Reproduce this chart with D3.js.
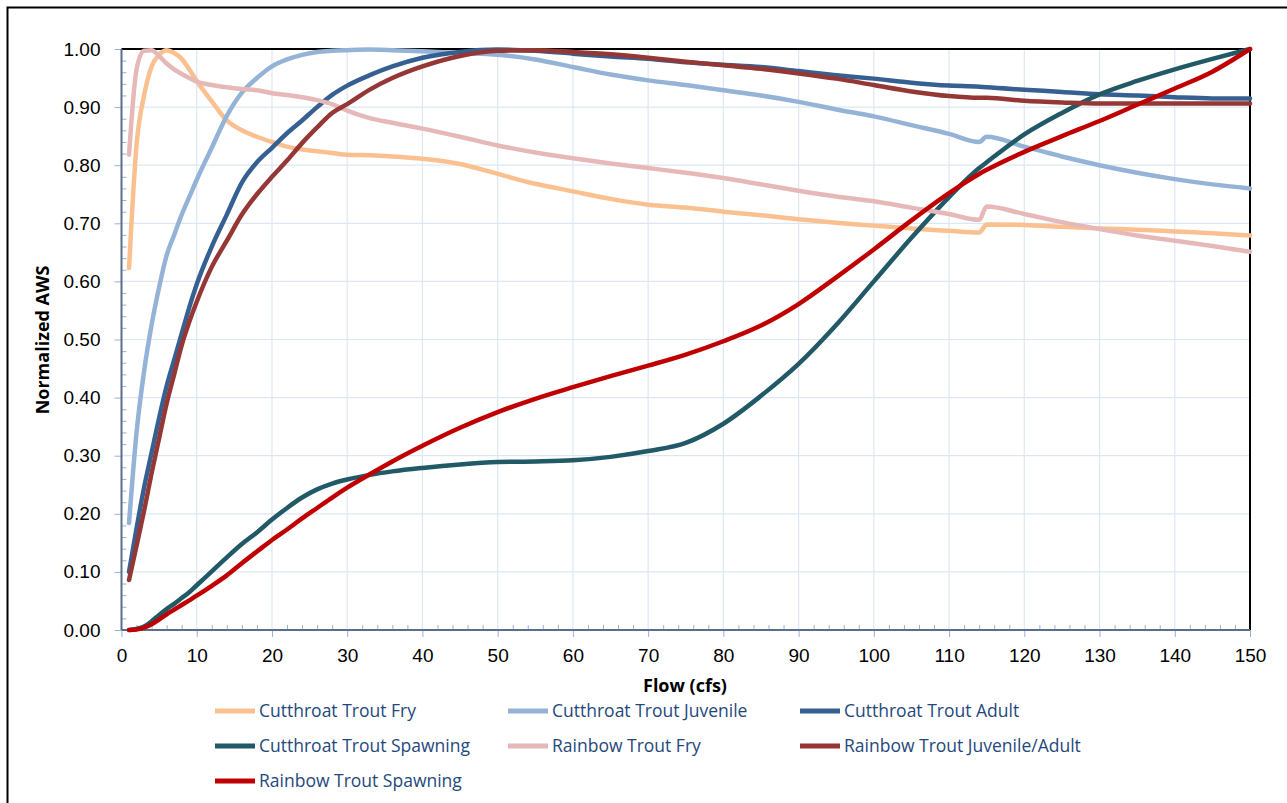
<!DOCTYPE html>
<html>
<head>
<meta charset="utf-8">
<script src="https://cdn.jsdelivr.net/npm/d3@7"></script>
<style>
  body { margin: 0; background: #fff; }
  svg { display: block; font-family: "Open Sans", "Noto Sans", sans-serif; }
</style>
</head>
<body>
<script>
// flow values (cfs) shared by every series
var flows = [1,2,3,4,5,6,7,8,9,10,12,14,16,18,20,22,24,26,28,30,33,36,40,45,50,55,60,65,70,75,80,85,90,95,100,105,110,114,115,120,125,130,135,140,145,150];

var ctFry = [0.623,0.835,0.92,0.97,0.99,0.998,0.993,0.983,0.965,0.945,0.91,0.877,0.86,0.849,0.84,0.832,0.827,0.824,0.821,0.818,0.817,0.815,0.811,0.802,0.785,0.768,0.755,0.742,0.732,0.727,0.72,0.714,0.707,0.701,0.696,0.691,0.687,0.684,0.698,0.697,0.694,0.691,0.689,0.686,0.683,0.679];
var ctJuv = [0.184,0.34,0.445,0.525,0.59,0.645,0.68,0.715,0.745,0.775,0.83,0.885,0.925,0.95,0.97,0.982,0.99,0.995,0.997,0.998,0.999,0.998,0.996,0.993,0.99,0.982,0.969,0.956,0.946,0.938,0.929,0.92,0.909,0.896,0.884,0.869,0.854,0.84,0.849,0.832,0.815,0.8,0.787,0.776,0.767,0.76];
var ctAdult = [0.1,0.175,0.245,0.305,0.365,0.42,0.465,0.51,0.555,0.595,0.66,0.715,0.77,0.805,0.83,0.855,0.877,0.9,0.921,0.937,0.955,0.97,0.985,0.995,0.999,0.997,0.992,0.987,0.983,0.977,0.973,0.969,0.962,0.955,0.949,0.942,0.937,0.935,0.934,0.93,0.926,0.922,0.92,0.917,0.915,0.915];
var ctSpawn = [0,0.002,0.006,0.015,0.026,0.036,0.045,0.055,0.065,0.077,0.101,0.125,0.148,0.168,0.19,0.21,0.228,0.242,0.252,0.259,0.267,0.273,0.279,0.285,0.289,0.29,0.292,0.298,0.308,0.322,0.355,0.403,0.458,0.525,0.6,0.675,0.745,0.795,0.805,0.853,0.89,0.922,0.945,0.965,0.983,1.0];
var rtFry = [0.818,0.965,0.997,0.998,0.988,0.975,0.965,0.957,0.95,0.944,0.938,0.934,0.931,0.929,0.924,0.921,0.917,0.912,0.905,0.894,0.881,0.873,0.863,0.849,0.834,0.822,0.812,0.803,0.795,0.787,0.778,0.767,0.756,0.746,0.738,0.727,0.716,0.706,0.729,0.716,0.702,0.69,0.679,0.67,0.661,0.651];
var rtJuv = [0.086,0.145,0.205,0.27,0.33,0.39,0.44,0.49,0.53,0.565,0.625,0.67,0.715,0.75,0.78,0.808,0.838,0.865,0.89,0.905,0.93,0.95,0.97,0.988,0.997,0.998,0.995,0.991,0.985,0.978,0.972,0.966,0.958,0.949,0.938,0.927,0.919,0.916,0.916,0.911,0.908,0.906,0.906,0.906,0.906,0.906];
var rtSpawn = [0,0.001,0.004,0.01,0.018,0.027,0.035,0.043,0.051,0.059,0.076,0.094,0.115,0.135,0.155,0.173,0.192,0.21,0.228,0.245,0.268,0.29,0.317,0.348,0.375,0.398,0.418,0.437,0.455,0.474,0.497,0.524,0.561,0.607,0.655,0.705,0.752,0.785,0.792,0.823,0.85,0.876,0.904,0.932,0.961,1.0];

var seriesNames = ["Cutthroat Trout Fry","Cutthroat Trout Juvenile","Cutthroat Trout Adult","Cutthroat Trout Spawning","Rainbow Trout Fry","Rainbow Trout Juvenile/Adult","Rainbow Trout Spawning"];
var seriesValues = [ctFry, ctJuv, ctAdult, ctSpawn, rtFry, rtJuv, rtSpawn];
var seriesColors = ["#FAC090","#95B3D7","#376092","#215967","#E6B9B8","#953735","#C00000"];

var xTicks = d3.range(0, 151, 10);
var yTicks = d3.range(0, 1.001, 0.1);

var W = 1287, H = 803;
var svg = d3.select("body").append("svg").attr("width", W).attr("height", H);

// outer chart frame
svg.append("rect").attr("x", 7.5).attr("y", 7.5).attr("width", 1300).attr("height", 820)
  .attr("fill", "none").attr("stroke", "#000").attr("stroke-width", 2);

var x = d3.scaleLinear().domain([0, 150]).range([121.5, 1250]);
var y = d3.scaleLinear().domain([0, 1]).range([630, 49]);

// gridlines
svg.append("g").selectAll("line").data(xTicks.slice(1)).enter().append("line")
  .attr("x1", d => x(d)).attr("x2", d => x(d)).attr("y1", y(0)).attr("y2", y(1))
  .attr("stroke", "#DDE7F3").attr("stroke-width", 1.2);
svg.append("g").selectAll("line").data(yTicks.slice(1)).enter().append("line")
  .attr("x1", x(0)).attr("x2", x(150)).attr("y1", d => y(d)).attr("y2", d => y(d))
  .attr("stroke", "#DDE7F3").attr("stroke-width", 1.2);

// y axis
var yAxis = svg.append("g").attr("transform", "translate(" + x(0) + ",0)")
  .call(d3.axisLeft(y).tickValues(yTicks).tickFormat(d3.format(".2f")).tickSize(7).tickPadding(14));
yAxis.select(".domain").remove();
yAxis.selectAll(".tick line").attr("stroke", "#95B3D7");
yAxis.selectAll("text").attr("font-size", 19).attr("fill", "#000");
var yMinor = svg.append("g").attr("transform", "translate(" + x(0) + ",0)")
  .call(d3.axisRight(y).tickValues(d3.range(0, 1.001, 0.02).filter((d, i) => i % 5 != 0)).tickSize(5).tickFormat(""));
yMinor.select(".domain").remove();
yMinor.selectAll(".tick line").attr("stroke", "#95B3D7");

// x axis
var xAxis = svg.append("g").attr("transform", "translate(0," + y(0) + ")")
  .call(d3.axisBottom(x).tickValues(xTicks).tickSize(7).tickPadding(12));
xAxis.select(".domain").remove();
xAxis.selectAll(".tick line").attr("stroke", "#95B3D7");
xAxis.selectAll("text").attr("font-size", 19).attr("fill", "#000");
var xMinor = svg.append("g").attr("transform", "translate(0," + y(0) + ")")
  .call(d3.axisTop(x).tickValues(d3.range(0, 151, 2).filter(d => d % 10 != 0)).tickSize(5).tickFormat(""));
xMinor.select(".domain").remove();
xMinor.selectAll(".tick line").attr("stroke", "#95B3D7");

// plot area borders
svg.append("line").attr("x1", x(0)).attr("x2", x(150)).attr("y1", y(1)).attr("y2", y(1)).attr("stroke", "#000").attr("stroke-width", 2);
svg.append("line").attr("x1", x(150)).attr("x2", x(150)).attr("y1", y(1)).attr("y2", y(0)).attr("stroke", "#000").attr("stroke-width", 2);
svg.append("line").attr("x1", x(0)).attr("x2", x(0)).attr("y1", y(1)).attr("y2", y(0)).attr("stroke", "#5B6F8C").attr("stroke-width", 2);
svg.append("line").attr("x1", x(0)).attr("x2", x(150)).attr("y1", y(0)).attr("y2", y(0)).attr("stroke", "#5B6F8C").attr("stroke-width", 2);

// series lines
var line = d3.line().x((d, i) => x(flows[i])).y(d => y(d)).curve(d3.curveMonotoneX);
svg.append("g").selectAll("path").data(seriesValues).enter().append("path")
  .attr("d", line).attr("fill", "none")
  .attr("stroke", (d, i) => seriesColors[i]).attr("stroke-width", 4.5)
  .attr("stroke-linejoin", "round").attr("stroke-linecap", "round");

// axis titles
svg.append("text").attr("x", 685).attr("y", 692).attr("text-anchor", "middle")
  .attr("font-size", 18).attr("font-weight", "bold").text("Flow (cfs)");
svg.append("text").attr("transform", "translate(49,340) rotate(-90)").attr("text-anchor", "middle")
  .attr("font-size", 18).attr("font-weight", "bold").text("Normalized AWS");

// legend
var legX = [215, 508, 800], legY = [711, 746, 781];
var leg = svg.append("g").selectAll("g").data(seriesNames).enter().append("g")
  .attr("transform", (d, i) => "translate(" + legX[i % 3] + "," + legY[Math.floor(i / 3)] + ")");
leg.append("line").attr("x1", 0).attr("x2", 40).attr("stroke", (d, i) => seriesColors[i]).attr("stroke-width", 5);
leg.append("text").attr("x", 44).attr("dy", "0.35em").attr("font-size", 17.5).attr("fill", "#1F497D").text(d => d);
</script>
</body>
</html>
